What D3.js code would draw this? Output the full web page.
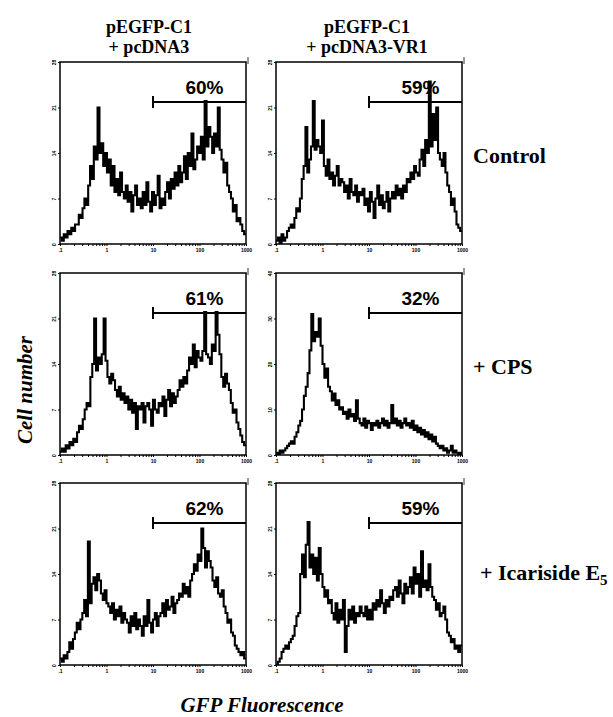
<!DOCTYPE html>
<html>
<head>
<meta charset="utf-8">
<script src="https://cdn.jsdelivr.net/npm/d3@7"></script>
<style>
  body { margin: 0; background: #fff; }
</style>
</head>
<body>
<div id="wrapper"></div>
<script>
// column headers (two lines each) and row labels
const constructs = [
  ["pEGFP-C1", "+ pcDNA3"],
  ["pEGFP-C1", "+ pcDNA3-VR1"],
];
const conditions = ["Control", "+ CPS", "+ Icariside E"];
const conditionSubscripts = ["", "", "5"];

const gatePercents = [
  ["60%", "59%"],
  ["61%", "32%"],
  ["62%", "59%"],
];
const yMaxes = [
  [28, 28],
  [28, 40],
  [28, 28],
];

const xTickValues = [0.1, 1, 10, 100, 1000];
const xTickLabels = [".1", "1", "10", "100", "1000"];
const gateStart = 10;

// cell counts per log channel (0.1 .. 1000)
const controlPcDNA3 = [1, 0.5, 1.5, 1, 2, 1.5, 2.5, 2, 3, 3, 4.5, 4, 5.5, 7, 6, 9, 12, 10, 15, 13, 21, 14, 15.5, 12, 14, 11, 13, 9, 12, 8, 10, 7.5, 11, 8, 7, 9, 6.5, 8, 5, 7.5, 9, 6, 7, 5.5, 8, 6, 9.5, 6.5, 5, 8, 6, 7.5, 10.5, 5.5, 7, 6, 8, 9.5, 7, 10, 8.5, 11, 9, 12, 9.5, 11, 13.5, 10, 14, 12, 17, 11.5, 13, 15, 14, 16.5, 13, 22, 15, 18, 16.5, 14, 17, 15, 21, 14.5, 13, 11, 12.5, 9, 8, 7, 5, 6, 3.5, 4, 3, 2, 1.5];
const controlVR1 = [0.5, 1, 0, 1.5, 0.5, 1, 2, 2.5, 3, 2.5, 4, 5.5, 5, 7, 10, 12, 18, 11, 13, 15, 22, 14.5, 16, 15, 14, 19, 12, 10.5, 13, 10, 11, 9, 10.5, 12, 9, 10, 9.5, 8, 9, 7, 10, 8, 7.5, 9, 6.5, 8, 7.5, 8.5, 6, 7, 5, 8, 6.5, 4, 7, 9, 6, 7.5, 5.5, 6.5, 8, 5, 7, 8, 7, 9, 7.5, 8.5, 7, 9, 8, 10, 9.5, 11, 10, 12, 11, 10.5, 13, 14.5, 12, 16, 14, 25, 15, 20, 16, 21, 14, 13, 12, 14, 11, 9, 8, 6, 7, 5, 3, 2.5, 2];
const cpsPcDNA3 = [0.5, 1, 0.5, 1.5, 1, 2, 1.5, 2.5, 2, 3.5, 4.5, 4, 5.5, 7, 8, 7.5, 12, 14, 21, 13, 15, 14, 15.5, 21, 14.5, 12, 11, 12.5, 11.5, 10, 9, 10.5, 8.5, 9.5, 8, 9, 7, 8.5, 6.5, 8, 4, 7.5, 7, 8, 5, 7.5, 8, 7, 4.5, 8.5, 7, 6.5, 8, 7.5, 9, 6, 8.5, 10, 7.5, 9.5, 8, 9, 10, 11.5, 10.5, 12, 11, 13, 15, 14, 17, 13.5, 16, 15, 14.5, 16, 22, 15.5, 15, 14, 17, 16, 22, 18.5, 15.5, 12, 10.5, 12.5, 11, 10, 8, 6.5, 7, 5, 4, 3, 2, 1.5];
const cpsVR1 = [0.5, 0, 1, 0.5, 1, 1.5, 2, 2.5, 3, 2.5, 4, 5, 6.5, 7.5, 10, 13, 15, 18, 23, 31, 25, 27, 26, 30, 24, 20, 17, 19, 15, 14, 12, 13.5, 11, 12, 10, 10.5, 9, 9.5, 8, 10, 8.5, 9, 7.5, 12, 8, 7, 6.5, 8, 6, 7.5, 7, 5.5, 7, 6.5, 7.5, 6, 7, 8, 6.5, 7.5, 6, 7, 11, 7, 8, 6.5, 7.5, 6, 7, 8, 6.5, 7, 6, 7.5, 5.5, 6.5, 5, 6, 4.5, 5.5, 4, 5, 3.5, 4.5, 3, 4, 2.5, 2, 1.5, 2, 1, 1.5, 0.5, 1, 2, 0.5, 1, 0.5, 0, 0.5];
const icarisidePcDNA3 = [1, 0.5, 1.5, 1, 2, 3.5, 2.5, 4, 5, 6.5, 5.5, 7, 8, 10, 7.5, 19, 9.5, 12.5, 13.5, 11.5, 14, 13, 11, 10, 11.5, 9.5, 9, 8, 9.5, 7, 8.5, 7.5, 9, 6.5, 8, 7, 6.5, 5, 7.5, 6, 8, 5.5, 7, 6, 4.5, 7.5, 6, 10, 6.5, 5, 7, 8, 6, 7.5, 8, 9.5, 7.5, 10, 8.5, 9, 10.5, 8, 9.5, 10, 11, 10.5, 12.5, 11, 12, 10.5, 13, 14, 15.5, 14.5, 17, 16, 21, 18, 15, 17.5, 16, 15, 13, 12, 13.5, 11, 10.5, 11.5, 9, 8, 6.5, 7, 5, 4.5, 3, 2.5, 2, 1.5, 2, 1];
const icarisideVR1 = [0, 0.5, 1, 2, 2.5, 3, 2.5, 3.5, 4, 4.5, 6, 7.5, 8, 14, 17, 13.5, 18.5, 22, 15, 17, 14, 16.5, 13, 18, 14, 12, 10.5, 11.5, 9.5, 10, 8, 7, 9.5, 6.5, 8.5, 7, 10, 2, 6, 8.5, 7, 9, 6.5, 8, 7.5, 9, 8, 7.5, 9, 7, 8.5, 7, 9.5, 8.5, 10, 9, 11.5, 9.5, 8, 10, 9, 10.5, 10, 11.5, 12, 10.5, 13, 11, 9.5, 12.5, 11, 12, 13.5, 11, 15, 12.5, 14, 10.5, 17.5, 12, 13, 11.5, 15.5, 12, 10.5, 10, 8.5, 9.5, 7.5, 8, 9, 7, 5, 4.5, 3.5, 4, 2.5, 3, 2, 3];

const histograms = [
  [controlPcDNA3, controlVR1],
  [cpsPcDNA3, cpsVR1],
  [icarisidePcDNA3, icarisideVR1],
];

function drawFigure() {
  const dimensions = { width: 613, height: 717 };
  const panel = { width: 186, height: 182 };
  const colX = [60, 276];
  const rowY = [62, 273, 483];
  const serif = "'Liberation Serif', 'Times New Roman', serif";
  const sans = "'Liberation Sans', Arial, sans-serif";

  const svg = d3
    .select("#wrapper")
    .append("svg")
    .attr("width", dimensions.width)
    .attr("height", dimensions.height)
    .style("display", "block");

  const xScale = d3.scaleLog().domain([0.1, 1000]).range([0, panel.width]);
  const logMin = Math.log10(0.1);
  const logSpan = Math.log10(1000) - logMin;

  // column headers
  const headerX = [149, 367];
  constructs.forEach((lines, c) => {
    lines.forEach((line, l) => {
      svg
        .append("text")
        .attr("x", headerX[c])
        .attr("y", 33 + l * 20)
        .attr("text-anchor", "middle")
        .style("font-family", serif)
        .style("font-weight", "bold")
        .style("font-size", "18px")
        .text(line);
    });
  });

  histograms.forEach((row, r) => {
    row.forEach((values, c) => {
      const g = svg
        .append("g")
        .attr("transform", `translate(${colX[c]},${rowY[r]})`);

      const yMax = yMaxes[r][c];
      const yScale = d3.scaleLinear().domain([0, yMax]).range([panel.height, 0]);

      const clipId = `clip-${r}-${c}`;
      g.append("clipPath")
        .attr("id", clipId)
        .append("rect")
        .attr("width", panel.width)
        .attr("height", panel.height);

      const n = values.length;
      const points = values.map((v, i) => ({
        x: 10 ** (logMin + (logSpan * i) / n),
        y: v,
      }));
      points.push({ x: 1000, y: values[n - 1] });

      const line = d3
        .line()
        .x((d) => xScale(d.x))
        .y((d) => yScale(d.y))
        .curve(d3.curveStepAfter);

      g.append("path")
        .datum(points)
        .attr("clip-path", `url(#${clipId})`)
        .attr("fill", "none")
        .attr("stroke", "#000")
        .attr("stroke-width", 2.1)
        .attr("stroke-linejoin", "miter")
        .attr("d", line);

      // frame
      g.append("rect")
        .attr("width", panel.width)
        .attr("height", panel.height)
        .attr("fill", "none")
        .attr("stroke", "#000")
        .attr("stroke-width", 1.5);

      g.append("line")
        .attr("x1", panel.width + 2)
        .attr("x2", panel.width + 2)
        .attr("y1", -5)
        .attr("y2", 2)
        .attr("stroke", "#000")
        .attr("stroke-width", 0.8);

      // axes
      const xAxis = g
        .append("g")
        .attr("transform", `translate(0,${panel.height})`)
        .call(
          d3
            .axisBottom(xScale)
            .tickValues(xScale.ticks())
            .tickSize(2)
            .tickFormat((d) => {
              const k = xTickValues.findIndex((t) => Math.abs(t - d) < 1e-9);
              return k >= 0 ? xTickLabels[k] : "";
            })
        );
      xAxis.select(".domain").remove();
      xAxis
        .selectAll("text")
        .attr("y", 4)
        .style("font-family", sans)
        .style("font-weight", "bold")
        .style("font-size", "5px");

      const yAxis = g.append("g").call(
        d3
          .axisLeft(yScale)
          .tickValues(d3.range(0, yMax + 1, yMax / 4))
          .tickSize(2)
      );
      yAxis.select(".domain").remove();
      yAxis
        .selectAll("text")
        .attr("x", 0)
        .attr("y", -4)
        .attr("dy", 0)
        .attr("transform", "rotate(-90)")
        .style("text-anchor", "middle")
        .style("font-family", sans)
        .style("font-weight", "bold")
        .style("font-size", "5px");

      // positive gate marker
      const gx = xScale(gateStart);
      g.append("line")
        .attr("x1", gx)
        .attr("x2", panel.width)
        .attr("y1", 40)
        .attr("y2", 40)
        .attr("stroke", "#000")
        .attr("stroke-width", 2);
      g.append("line")
        .attr("x1", gx)
        .attr("x2", gx)
        .attr("y1", 34)
        .attr("y2", 46)
        .attr("stroke", "#000")
        .attr("stroke-width", 2);
      g.append("text")
        .attr("x", (gx + panel.width) / 2 + 5)
        .attr("y", 32)
        .attr("text-anchor", "middle")
        .style("font-family", sans)
        .style("font-weight", "bold")
        .style("font-size", "19px")
        .text(gatePercents[r][c]);
    });
  });

  // row labels
  const labelY = [163, 374, 580];
  const labelX = [473, 473, 480];
  conditions.forEach((label, r) => {
    const t = svg
      .append("text")
      .attr("x", labelX[r])
      .attr("y", labelY[r])
      .style("font-family", serif)
      .style("font-weight", "bold")
      .style("font-size", "22px")
      .text(label);
    if (conditionSubscripts[r]) {
      t.append("tspan")
        .attr("dy", 5)
        .style("font-size", "15px")
        .text(conditionSubscripts[r]);
    }
  });

  svg
    .append("text")
    .attr("transform", "translate(32,390) rotate(-90)")
    .attr("text-anchor", "middle")
    .style("font-family", serif)
    .style("font-weight", "bold")
    .style("font-style", "italic")
    .style("font-size", "21px")
    .text("Cell number");

  svg
    .append("text")
    .attr("x", 262)
    .attr("y", 712)
    .attr("text-anchor", "middle")
    .style("font-family", serif)
    .style("font-weight", "bold")
    .style("font-style", "italic")
    .style("font-size", "21px")
    .text("GFP Fluorescence");
}

drawFigure();
</script>
</body>
</html>
